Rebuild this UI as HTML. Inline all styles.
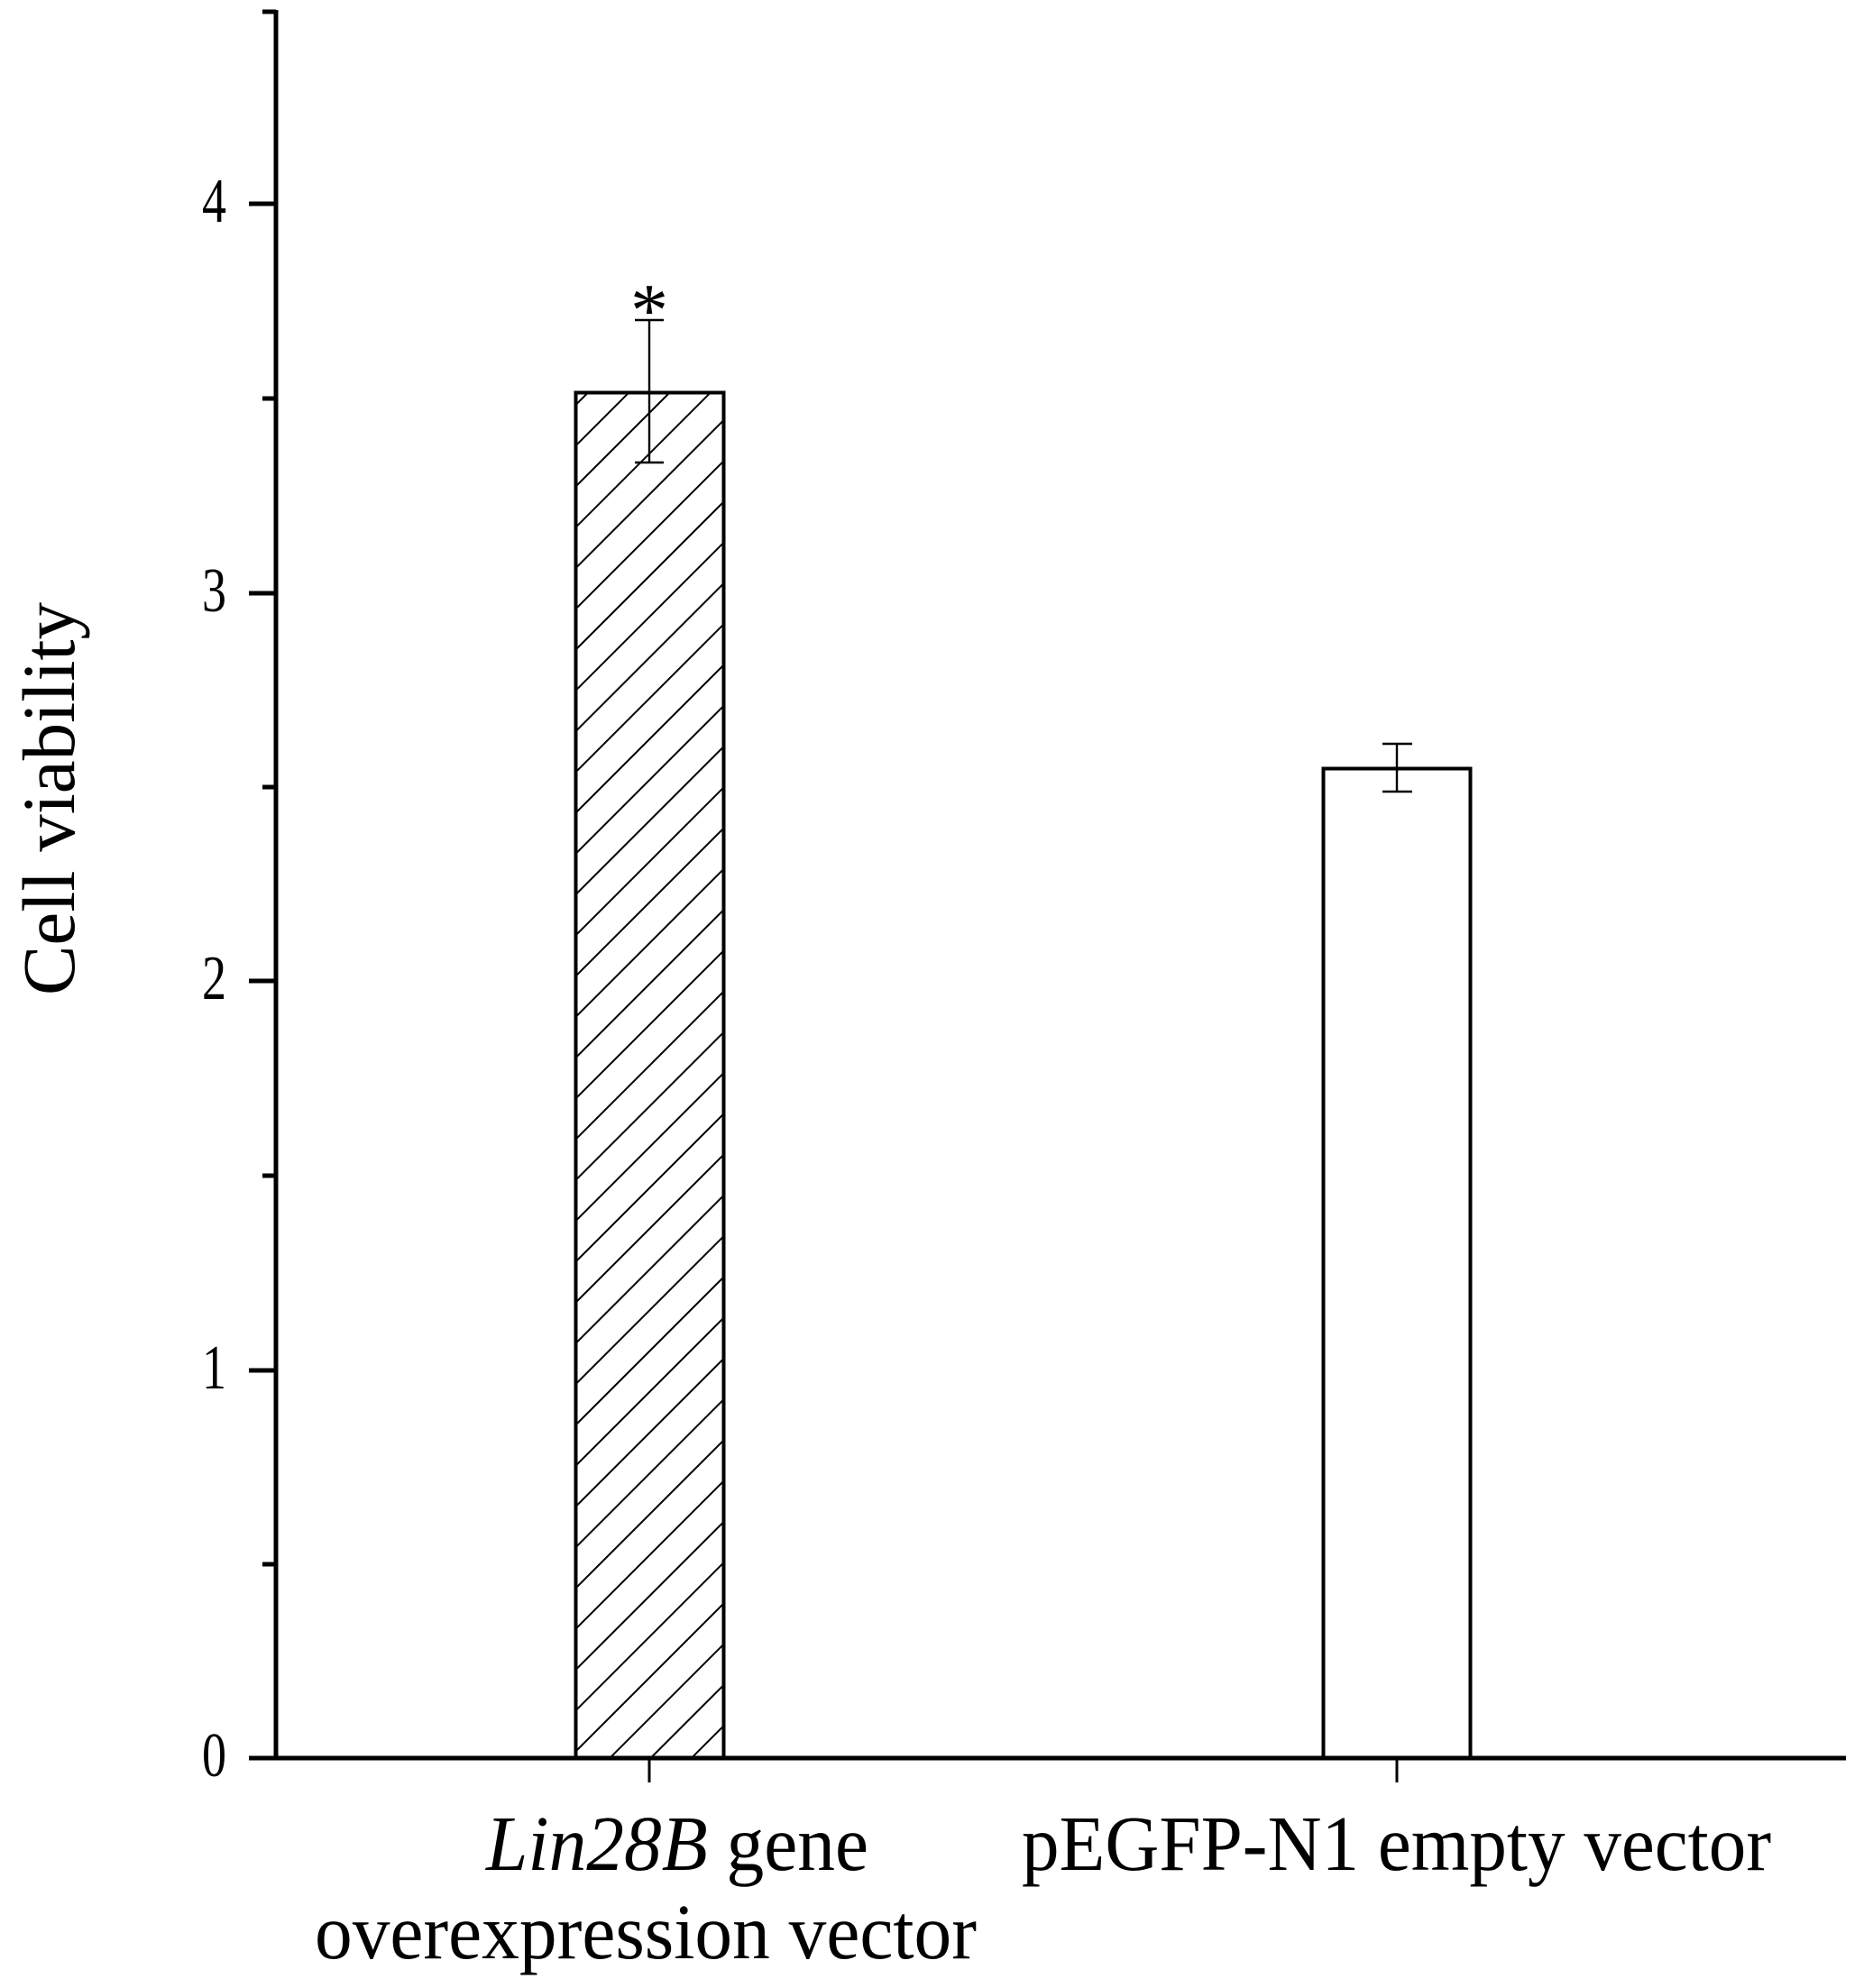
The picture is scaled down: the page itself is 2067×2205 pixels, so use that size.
<!DOCTYPE html>
<html><head><meta charset="utf-8"><style>html,body{margin:0;padding:0;background:#fff}svg{display:block}</style></head>
<body>
<svg width="2067" height="2205" viewBox="0 0 2067 2205" xmlns="http://www.w3.org/2000/svg" font-family="'Liberation Serif', serif">
<defs>
<pattern id="h" patternUnits="userSpaceOnUse" width="32" height="32" patternTransform="rotate(45)">
<line x1="0" y1="0" x2="0" y2="32" stroke="#000" stroke-width="4"/>
</pattern>
</defs>
<rect x="638.5" y="435.5" width="164" height="1514" fill="url(#h)" stroke="#000" stroke-width="4"/>
<rect x="1467.5" y="852.5" width="163" height="1097" fill="#fff" stroke="#000" stroke-width="4"/>
<g stroke="#000" stroke-width="2.4">
<line x1="720" y1="355" x2="720" y2="513"/><line x1="704" y1="355" x2="736" y2="355"/><line x1="704" y1="513" x2="736" y2="513"/>
<line x1="1549" y1="825" x2="1549" y2="878"/><line x1="1533" y1="825" x2="1566" y2="825"/><line x1="1533" y1="878" x2="1566" y2="878"/>
</g>
<text x="720" y="372" font-size="84" text-anchor="middle">*</text>
<g stroke="#000" stroke-width="5">
<line x1="306" y1="11" x2="306" y2="1952"/>
<line x1="276" y1="1950" x2="2047" y2="1950"/>
<line x1="276" y1="226" x2="306" y2="226"/>
<line x1="276" y1="658" x2="306" y2="658"/>
<line x1="276" y1="1088" x2="306" y2="1088"/>
<line x1="276" y1="1520" x2="306" y2="1520"/>
<line x1="291" y1="13" x2="306" y2="13"/>
<line x1="291" y1="442" x2="306" y2="442"/>
<line x1="291" y1="873" x2="306" y2="873"/>
<line x1="291" y1="1304" x2="306" y2="1304"/>
<line x1="291" y1="1735" x2="306" y2="1735"/>
</g>
<g stroke="#000" stroke-width="3">
<line x1="720" y1="1950" x2="720" y2="1977"/>
<line x1="1549" y1="1950" x2="1549" y2="1977"/>
</g>
<g font-size="54" text-anchor="end">
<text transform="translate(251,246) scale(1,1.3)">4</text>
<text transform="translate(251,678) scale(1,1.3)">3</text>
<text transform="translate(251,1108) scale(1,1.3)">2</text>
<text transform="translate(251,1540) scale(1,1.3)">1</text>
<text transform="translate(251,1970) scale(1,1.3)">0</text>
</g>
<g font-size="72">
<text transform="translate(539,2074) scale(1,1.2)" textLength="424" lengthAdjust="spacingAndGlyphs"><tspan font-style="italic">Lin28B</tspan> gene</text>
<text transform="translate(349,2172) scale(1,1.2)" textLength="734" lengthAdjust="spacingAndGlyphs">overexpression vector</text>
<text transform="translate(1133,2074) scale(1,1.2)" textLength="831" lengthAdjust="spacingAndGlyphs">pEGFP-N1 empty vector</text>
<text transform="translate(82,886) rotate(-90) scale(1,1.15)" text-anchor="middle" textLength="436" lengthAdjust="spacingAndGlyphs">Cell viability</text>
</g>
</svg>
</body></html>
